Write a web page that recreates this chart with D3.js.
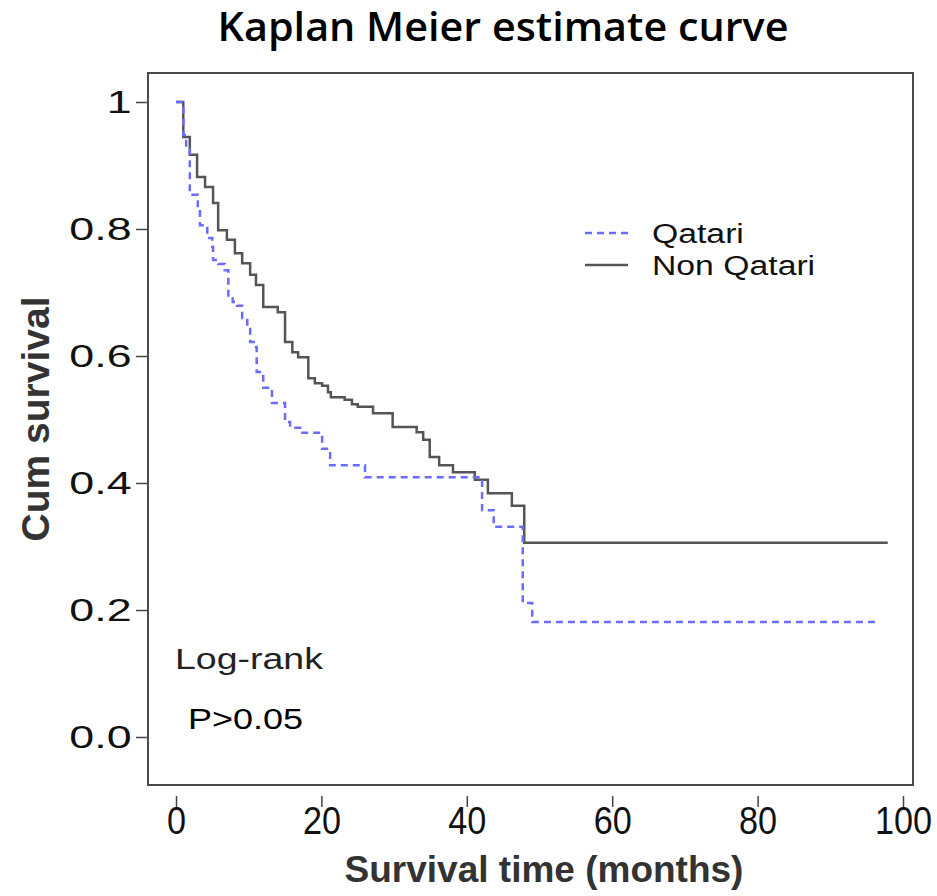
<!DOCTYPE html>
<html>
<head>
<meta charset="utf-8">
<script src="https://cdn.jsdelivr.net/npm/d3@7"></script>
<style>
  body { margin: 0; background: #fff; }
  svg { display: block; }
</style>
</head>
<body>
<div id="chart"></div>
<script>
// survival steps (months, cumulative survival)
var qatariTime = [0, 1.0, 1.4, 1.9, 3.0, 3.3, 4.3, 5.0, 5.1, 5.8, 6.7, 7.2, 7.8, 8.4, 9.1, 9.8, 10.2, 11.0, 11.1, 12.0, 13.2, 15.0, 15.7, 17.1, 20.1, 21.2, 26.0, 42.1, 43.7, 47.7, 49.0, 96.8];
var qatariSurv = [1, 0.948, 0.928, 0.854, 0.830, 0.806, 0.786, 0.772, 0.751, 0.745, 0.735, 0.693, 0.685, 0.679, 0.660, 0.647, 0.622, 0.614, 0.575, 0.550, 0.526, 0.496, 0.487, 0.479, 0.454, 0.428, 0.409, 0.357, 0.331, 0.211, 0.181, 0.181];

var nonQatariTime = [0, 1.0, 1.9, 2.9, 4.0, 5.1, 5.8, 7.0, 8.1, 9.1, 10.2, 11.0, 12.0, 14.0, 15.0, 16.0, 16.8, 18.2, 19.1, 20.1, 20.9, 21.3, 23.2, 24.2, 25.0, 27.1, 29.8, 33.1, 34.0, 34.9, 36.2, 38.1, 41.1, 42.9, 46.2, 47.9, 97.9];
var nonQatariSurv = [1, 0.945, 0.917, 0.882, 0.866, 0.841, 0.798, 0.783, 0.762, 0.746, 0.728, 0.712, 0.677, 0.669, 0.622, 0.606, 0.598, 0.565, 0.557, 0.553, 0.543, 0.535, 0.531, 0.524, 0.520, 0.510, 0.488, 0.480, 0.468, 0.441, 0.428, 0.417, 0.405, 0.384, 0.364, 0.306, 0.306];

var xTicks = [0, 20, 40, 60, 80, 100];
var yTicks = [0, 0.2, 0.4, 0.6, 0.8, 1];
var yTickLabels = ['0.0', '0.2', '0.4', '0.6', '0.8', '1'];

var width = 937, height = 896;

var svg = d3.select('#chart').append('svg')
    .attr('width', width)
    .attr('height', height)
    .style('background', '#fff');

var x = d3.scaleLinear().domain([0, 100]).range([176, 903]);
var y = d3.scaleLinear().domain([0, 1]).range([737, 102]);

// text that is stretched sideways like the original
function wideText(px, py, sx, label) {
    return svg.append('text')
        .attr('transform', 'translate(' + px + ',' + py + ') scale(' + sx + ',1)')
        .text(label);
}

// plot box
svg.append('rect')
    .attr('x', 148).attr('y', 73)
    .attr('width', 765).attr('height', 712)
    .attr('fill', 'none')
    .attr('stroke', '#4a4a4a')
    .attr('stroke-width', 2);

// title
wideText(503, 41, 1.06, 'Kaplan Meier estimate curve')
    .attr('text-anchor', 'middle')
    .style('font-family', 'Open Sans')
    .style('font-weight', 600)
    .style('font-size', '39px')
    .style('fill', '#000');

// x axis: ticks only, below the box
var xAxis = svg.append('g')
    .attr('transform', 'translate(0,796)')
    .call(d3.axisBottom(x).tickValues(xTicks).tickSize(11).tickPadding(0));
xAxis.select('.domain').remove();
xAxis.selectAll('line').attr('stroke', '#444').attr('stroke-width', 1.5);
xAxis.selectAll('text')
    .attr('transform', 'scale(0.9,1)')
    .style('font-family', 'Liberation Sans')
    .style('font-size', '38px')
    .style('fill', '#111');

// y axis
var yAxis = svg.append('g')
    .attr('transform', 'translate(147,0)')
    .call(d3.axisLeft(y).tickValues(yTicks).tickSize(11).tickPadding(0)
        .tickFormat(function(d, i) { return yTickLabels[i]; }));
yAxis.select('.domain').remove();
yAxis.selectAll('line').attr('stroke', '#444').attr('stroke-width', 1.5);
yAxis.selectAll('text')
    .attr('transform', 'scale(1.4,1)')
    .style('font-family', 'Liberation Sans')
    .style('font-size', '32px')
    .style('fill', '#111');

// axis titles
svg.append('text')
    .attr('x', 544).attr('y', 882)
    .attr('text-anchor', 'middle')
    .style('font-family', 'Liberation Sans')
    .style('font-weight', 'bold')
    .style('font-size', '37px')
    .style('fill', '#333')
    .text('Survival time (months)');

svg.append('text')
    .attr('transform', 'translate(49,419) rotate(-90)')
    .attr('text-anchor', 'middle')
    .style('font-family', 'Liberation Sans')
    .style('font-weight', 'bold')
    .style('font-size', '39px')
    .style('fill', '#333')
    .text('Cum survival');

var line = d3.line()
    .x(function(d) { return x(d[0]); })
    .y(function(d) { return y(d[1]); })
    .curve(d3.curveStepAfter);

svg.append('path')
    .datum(d3.zip(nonQatariTime, nonQatariSurv))
    .attr('d', line)
    .attr('fill', 'none')
    .attr('stroke', '#555')
    .attr('stroke-width', 2.5);

svg.append('path')
    .datum(d3.zip(qatariTime, qatariSurv))
    .attr('d', line)
    .attr('fill', 'none')
    .attr('stroke', '#6b6bff')
    .attr('stroke-width', 2.5)
    .attr('stroke-dasharray', '7,5');

// legend
svg.append('line')
    .attr('x1', 585).attr('x2', 628).attr('y1', 233).attr('y2', 233)
    .attr('stroke', '#6b6bff').attr('stroke-width', 2.5)
    .attr('stroke-dasharray', '7,5');
svg.append('line')
    .attr('x1', 585).attr('x2', 628).attr('y1', 265).attr('y2', 265)
    .attr('stroke', '#555').attr('stroke-width', 2.5);
wideText(652, 243, 1.25, 'Qatari')
    .style('font-family', 'Liberation Sans')
    .style('font-size', '27px')
    .style('fill', '#111');
wideText(652, 275, 1.25, 'Non Qatari')
    .style('font-family', 'Liberation Sans')
    .style('font-size', '27px')
    .style('fill', '#111');

// test annotation
wideText(175, 669, 1.25, 'Log-rank')
    .style('font-family', 'Liberation Sans')
    .style('font-size', '30px')
    .style('fill', '#222');
wideText(188, 729, 1.2, 'P>0.05')
    .style('font-family', 'Liberation Sans')
    .style('font-size', '30px')
    .style('fill', '#000');
</script>
</body>
</html>
